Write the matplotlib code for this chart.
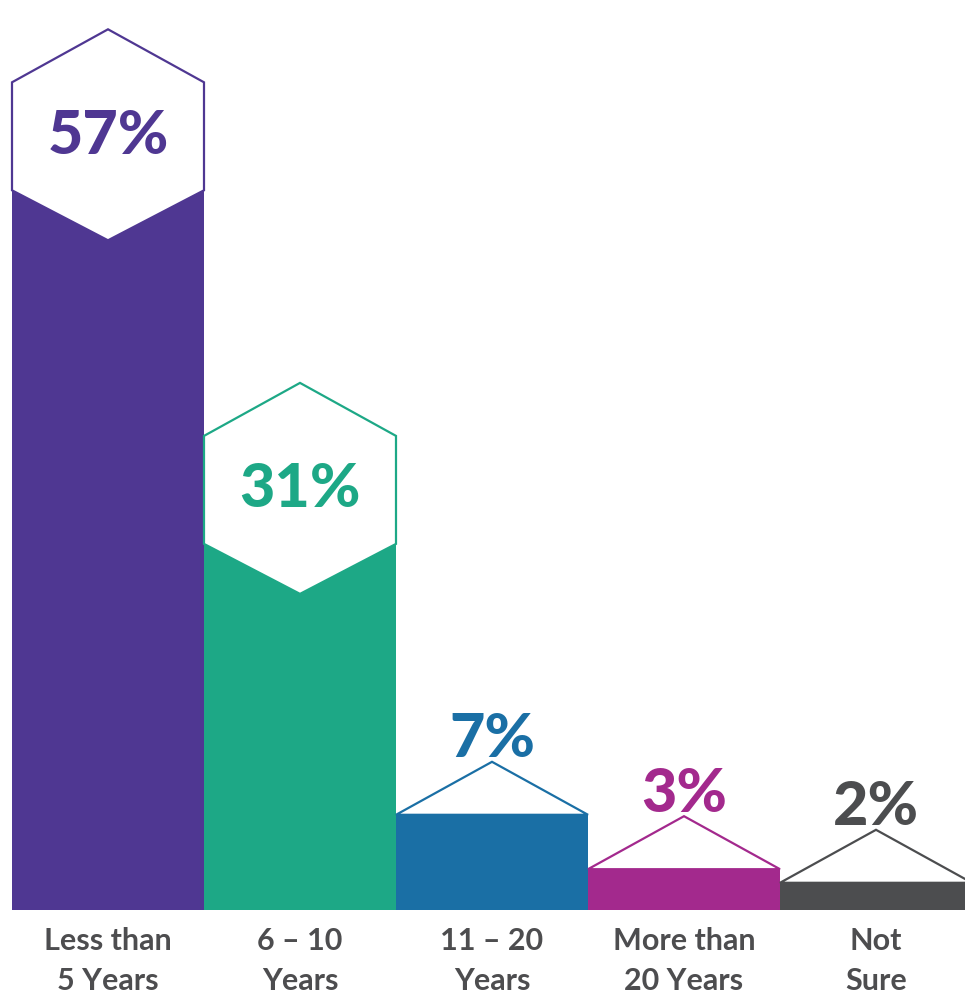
import matplotlib.pyplot as plt
from matplotlib.patches import Polygon

# Survey answers and their shares (%)
categories = ["Less than\n5 Years", "6 – 10\nYears", "11 – 20\nYears", "More than\n20 Years", "Not\nSure"]
values = [57, 31, 7, 3, 2]
colors = ["#4F3792", "#1DA886", "#1A6FA5", "#A3298D", "#4C4D4F"]
text_gray = "#4D4D4F"

plt.rcParams['font.family'] = ['Lato', 'DejaVu Sans']

# one y unit = PX pixels on the canvas
PX = 13.6
fig = plt.figure(figsize=(9.65, 9.95), dpi=100)
ax = fig.add_axes([0, 0, 1, 1])
ax.set_xlim(-0.5 - 12 / 192, -0.5 + (965 - 12) / 192)
ax.set_ylim(-(995 - 911) / PX, 911 / PX)
ax.axis("off")

half_w = 0.5
hex_tip = 105.5 / PX      # centre to top/bottom point
hex_upper = 52.5 / PX     # centre to upper shoulders
hex_lower = 55.5 / PX     # centre to lower shoulders
roof = 53 / PX            # height of the small roof

for i, (v, c) in enumerate(zip(values, colors)):
    if v >= 20:
        # big value: hexagon badge centred on the value
        fill = v - hex_lower
        ax.bar(i, fill, width=1.0, color=c, linewidth=0, zorder=1)
        pts = [(i, v + hex_tip), (i + half_w, v + hex_upper), (i + half_w, v - hex_lower),
               (i, v - hex_tip), (i - half_w, v - hex_lower), (i - half_w, v + hex_upper)]
        ax.add_patch(Polygon(pts, closed=True, facecolor="white", edgecolor=c,
                             linewidth=1.6, zorder=2))
        ax.text(i, v, f"{v}%", ha="center", va="center", fontsize=44,
                fontweight="black", color=c, zorder=3)
    else:
        # small value: bar with a roof and the label above it
        ax.bar(i, v, width=1.0, color=c, linewidth=0, zorder=1)
        pts = [(i - half_w, v), (i, v + roof), (i + half_w, v)]
        ax.add_patch(Polygon(pts, closed=True, facecolor="white", edgecolor=c,
                             linewidth=1.6, zorder=2, joinstyle="miter"))
        ax.text(i, v + roof + 0.4, f"{v}%", ha="center", va="baseline", fontsize=44,
                fontweight="black", color=c, zorder=3)

    ax.text(i, -1.2, categories[i], ha="center", va="top", fontsize=22,
            fontweight="bold", color=text_gray, linespacing=1.5)

fig.savefig("out.png", dpi=100, facecolor="white")
